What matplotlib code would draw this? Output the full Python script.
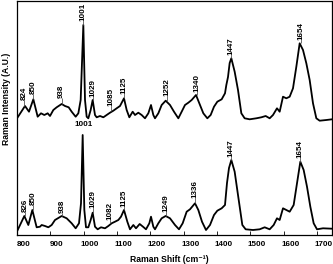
import matplotlib
matplotlib.use("Agg")
import matplotlib.pyplot as plt
from matplotlib.transforms import ScaledTranslation

plt.rcParams['font.family'] = ['Liberation Sans', 'DejaVu Sans']

# ---- data (Raman shift, intensity in arbitrary units) ----
upper_x = [802, 824, 836, 849, 862, 872, 882, 892, 899, 909, 919, 934, 944, 955, 964, 976, 984, 991,
           999, 1004, 1009, 1014, 1021, 1027, 1034, 1039, 1049, 1059, 1069, 1079, 1089, 1099, 1109,
           1121, 1129, 1137, 1147, 1154, 1164, 1174, 1184, 1194, 1202, 1209, 1214, 1224, 1234, 1246,
           1259, 1271, 1284, 1294, 1304, 1314, 1324, 1337, 1349, 1359, 1371, 1381, 1391, 1401, 1414,
           1424, 1428, 1433, 1438, 1443, 1453, 1463, 1473, 1483, 1498, 1518, 1533, 1546, 1558, 1568,
           1580, 1588, 1598, 1608, 1618, 1628, 1638, 1648, 1658, 1668, 1678, 1688, 1698, 1708, 1728,
           1745]
upper_y = [117.7, 129, 123.3, 135.7, 118.3, 121.7, 120, 121.7, 119, 125, 127.7, 131, 129, 127.7, 123.3,
           118.3, 121.7, 135, 210, 135, 118.3, 116.7, 125, 135, 120, 117.7, 119, 117.7, 120, 122.3,
           124.3, 126.7, 129, 136.7, 125, 117.7, 123.3, 120, 122.3, 120, 116.7, 121.7, 130, 120, 116.7,
           121.7, 130, 134.3, 130, 123.3, 116.7, 123.3, 130, 132.3, 135, 140, 130, 121.7, 116.7, 120,
           128.3, 133.3, 135.7, 141.7, 150, 158, 172, 176.7, 163.3, 145, 121.7, 116.7, 115.7, 116.7,
           117.7, 119, 116.7, 120, 126.7, 123.3, 138.3, 136.7, 138.3, 146.7, 168.3, 191.7, 185, 171.7,
           155, 131.7, 116.7, 114.3, 115, 115.7]

lower_x = [802, 822, 834, 846, 859, 869, 874, 884, 894, 904, 914, 934, 949, 964, 976, 986, 992, 997,
           1002, 1007, 1014, 1021, 1027, 1034, 1042, 1052, 1064, 1074, 1084, 1094, 1104, 1112, 1121,
           1131, 1139, 1149, 1157, 1168, 1178, 1187, 1197, 1202, 1209, 1214, 1224, 1234, 1246, 1259,
           1274, 1286, 1297, 1309, 1319, 1334, 1344, 1355, 1367, 1379, 1391, 1401, 1414, 1424, 1430,
           1436, 1443, 1453, 1463, 1476, 1486, 1508, 1528, 1543, 1558, 1570, 1580, 1588, 1598, 1608,
           1618, 1630, 1640, 1650, 1660, 1670, 1680, 1690, 1700, 1718, 1745]
lower_y = [5, 19, 10, 25, 7.7, 8.3, 10, 9, 7.7, 10, 15, 19, 16.7, 11.7, 6.7, 11.7, 31.7, 100, 25, 7.7,
           7.7, 15, 22.3, 8.3, 5.7, 7.7, 6.7, 9, 11.7, 13.3, 15, 18.3, 25, 13.3, 5.7, 10, 6.7, 11, 8.3,
           5.7, 11.7, 18.3, 8.3, 5.7, 11.7, 16.7, 19, 16.7, 10, 5.7, 11.7, 23.3, 25.7, 31.7, 25, 13.3,
           5, 10, 20, 24.3, 26.7, 30, 52, 67, 75, 63.3, 40, 10, 5.7, 5, 5.7, 7.7, 5.7, 10, 16.7, 15,
           26.7, 25, 23.3, 30, 51.7, 73.3, 65, 48.3, 28.3, 11.7, 5.7, 6.7, 6.3]

# peak annotations: label, x position, label base height, peak height
upper_labels = ['824', '850', '938', '1001', '1029', '1085', '1125', '1252', '1340', '1447', '1654']
upper_lab_x = [822, 849, 934, 999, 1027, 1082, 1122, 1249, 1339, 1443, 1652]
upper_lab_base = [135, 141, 137, 214, 138, 129, 141, 139, 143, 180, 195]
upper_lab_peak = [129, 136, 131, 210, 135, 124, 137, 134, 140, 177, 192]

lower_labels = ['826', '850', '938', '1029', '1082', '1125', '1249', '1336', '1447', '1654']
lower_lab_x = [824, 849, 936, 1027, 1079, 1121, 1246, 1334, 1443, 1650]
lower_lab_base = [23, 30, 22, 27, 15, 28, 23, 37, 78, 77]
lower_lab_peak = [19, 25, 19, 22, 12, 25, 19, 32, 75, 73]
lower_top_label = '1001'
lower_top_x = 1001
lower_top_y = 111

xticks = [800, 900, 1000, 1100, 1200, 1300, 1400, 1500, 1600, 1700]

# ---- figure ----
W, H = 333, 264
fig = plt.figure(figsize=(W / 100, H / 100), dpi=100)
ax = fig.add_axes([17 / W, (H - 235) / H, 315 / W, 234 / H])

ax.plot(upper_x, upper_y, color='black', lw=1.3)
ax.plot(lower_x, lower_y, color='black', lw=1.3)

lab_kw = dict(rotation=90, ha='center', va='bottom', fontsize=5.8, fontweight='bold')
for lab, x, b, p in zip(upper_labels, upper_lab_x, upper_lab_base, upper_lab_peak):
    ax.vlines(x, p, b, color='#555555', lw=0.6)
    ax.text(x, b, lab, **lab_kw)
for lab, x, b, p in zip(lower_labels, lower_lab_x, lower_lab_base, lower_lab_peak):
    ax.vlines(x, p, b, color='#555555', lw=0.6)
    ax.text(x, b, lab, **lab_kw)
ax.text(lower_top_x, lower_top_y, lower_top_label, ha='center', va='center',
        fontsize=5.8, fontweight='bold')

ax.set_xlim(800, 1745)
ax.set_ylim(0, 234)
ax.set_xticks(xticks)
ax.set_xticklabels([str(t) for t in xticks], fontsize=5.8, fontweight='bold')
ax.set_yticks([])
ax.tick_params(axis='x', direction='in', length=3, width=0.6, pad=4)
offset = ScaledTranslation(6.5 / 100, 0, fig.dpi_scale_trans)
for lbl in ax.get_xticklabels():
    lbl.set_transform(lbl.get_transform() + offset)
for s in ax.spines.values():
    s.set_linewidth(0.9)

fig.text(169 / W, 1 - 260 / H, 'Raman Shift (cm\u207b\u00b9)', ha='center', va='center',
         fontsize=6.2, fontweight='bold', family=['Liberation Sans', 'DejaVu Sans'])
fig.text(6.7 / W, 1 - 99 / H, 'Raman Intensity (A.U.)', ha='center', va='center',
         rotation=90, fontsize=6.2, fontweight='bold')

fig.savefig('out.png', dpi=100)
